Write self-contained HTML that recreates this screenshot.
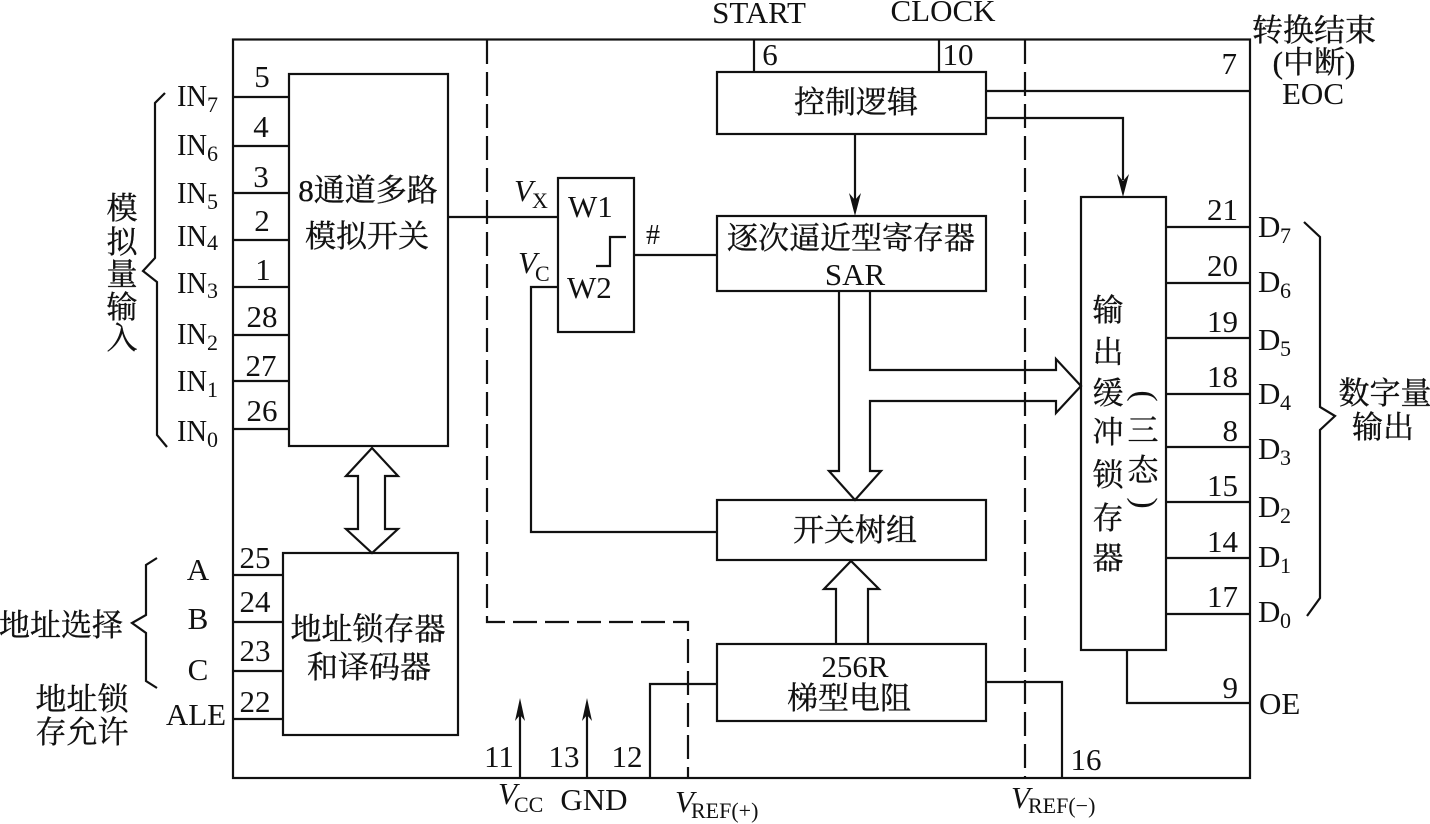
<!DOCTYPE html>
<html><head><meta charset="utf-8"><style>
html,body{margin:0;padding:0;background:#fff}
svg{display:block}
text{fill:#111;font-family:"Liberation Serif","Noto Serif CJK SC",serif;font-size:31px}
.c{font-size:31px;text-anchor:middle;stroke:#111;stroke-width:.35}
.m{text-anchor:middle}
.e{text-anchor:end}
.s{font-size:22px}
.i{font-style:italic}
.l{fill:none;stroke:#111;stroke-width:2.2}
.d{fill:none;stroke:#111;stroke-width:2.2;stroke-dasharray:24 8}
.a{fill:#111;stroke:none}
</style></head><body>
<svg width="1430" height="824" viewBox="0 0 1430 824" xmlns="http://www.w3.org/2000/svg">
<rect class="l" x="233" y="39.5" width="1017" height="738.5"/>
<path class="d" d="M487 40V622H688V778M1025 40V778"/>
<rect class="l" x="289" y="74" width="159" height="372"/>
<rect class="l" x="283" y="553" width="175" height="182"/>
<rect class="l" x="717" y="72" width="269" height="62"/>
<rect class="l" x="717" y="216" width="269" height="75"/>
<rect class="l" x="558" y="178" width="76" height="154"/>
<rect class="l" x="717" y="500" width="269" height="60"/>
<rect class="l" x="717" y="644" width="269" height="77"/>
<rect class="l" x="1081" y="197" width="85" height="453"/>
<path class="l" d="M233 97H289M233 146H289M233 193H289M233 240H289M233 287H289M233 335H289M233 381H289M233 429H289"/>
<path class="l" d="M233 575H283M233 622H283M233 671H283M233 719H283"/>
<path class="l" d="M1166 227H1250M1166 283H1250M1166 338H1250M1166 394H1250M1166 447H1250M1166 502H1250M1166 558H1250M1166 614H1250"/>
<path class="l" d="M372 448L398 476H385V529H398L372 553L346 529H358V476H346Z"/>
<path class="l" d="M448 217H558M634 255H717M558 287H531V532H717M596 266H610V237H626"/>
<path class="l" d="M754 39V72M939 39V72M855 134V200M986 91H1250M986 118H1123V180M1127 650V703H1250"/>
<path class="l" d="M870 291V370H1056V359L1081 386L1056 413V401H870V471H881L855 500L829 471H839V291"/>
<path class="l" d="M836 644V589H824L851 561L879 589H868V644"/>
<path class="l" d="M650 778V684H717M986 682H1062V778M520 778V715M587 778V715"/>
<path class="a" d="M855 216L849 193L855 200L861 193ZM1123 197L1117 174L1123 181L1129 174ZM520 698L515 721L520 715L525 721ZM587 698L582 721L587 715L592 721Z"/>
<path class="l" d="M165 93L155 103V258L143 271L157 282V435L167 447"/>
<path class="l" d="M157 558L146 565V615L132 623L146 633V681L157 688"/>
<path class="l" d="M1304 222L1320 237V407L1335 416L1320 430V598L1307 616"/>

<text x="177" y="106" textLength="30" lengthAdjust="spacingAndGlyphs">IN</text><text x="207" y="112" class="s">7</text>
<text x="177" y="155" textLength="30" lengthAdjust="spacingAndGlyphs">IN</text><text x="207" y="161" class="s">6</text>
<text x="177" y="203" textLength="30" lengthAdjust="spacingAndGlyphs">IN</text><text x="207" y="209" class="s">5</text>
<text x="177" y="246" textLength="30" lengthAdjust="spacingAndGlyphs">IN</text><text x="207" y="250" class="s">4</text>
<text x="177" y="293" textLength="30" lengthAdjust="spacingAndGlyphs">IN</text><text x="207" y="298" class="s">3</text>
<text x="177" y="344" textLength="30" lengthAdjust="spacingAndGlyphs">IN</text><text x="207" y="350" class="s">2</text>
<text x="177" y="391" textLength="30" lengthAdjust="spacingAndGlyphs">IN</text><text x="207" y="397" class="s">1</text>
<text x="177" y="441" textLength="30" lengthAdjust="spacingAndGlyphs">IN</text><text x="207" y="447" class="s">0</text>

<text x="262" y="87" class="m">5</text><text x="261" y="137" class="m">4</text><text x="261" y="187" class="m">3</text><text x="262" y="231" class="m">2</text><text x="263" y="280" class="m">1</text><text x="262" y="327" class="m">28</text><text x="261" y="376" class="m">27</text><text x="262" y="421" class="m">26</text>
<text x="255" y="568" class="m">25</text><text x="255" y="612" class="m">24</text><text x="255" y="661" class="m">23</text><text x="255" y="712" class="m">22</text>
<text x="198" y="580" class="m">A</text><text x="198" y="629" class="m">B</text><text x="198" y="680" class="m">C</text><text x="196" y="725" class="m">ALE</text>

<text x="122" y="219" class="c">模</text><text x="122" y="253" class="c">拟</text><text x="122" y="285" class="c">量</text><text x="122" y="318" class="c">输</text><text x="122" y="349" class="c">入</text>
<text x="368" y="201" class="c">8通道多路</text><text x="367" y="247" class="c">模拟开关</text>
<text x="61" y="636" class="c">地址选择</text><text x="82" y="710" class="c">地址锁</text><text x="82" y="743" class="c">存允许</text>
<text x="368" y="640" class="c">地址锁存器</text><text x="369" y="678" class="c">和译码器</text>

<text x="759" y="23" class="m">START</text><text x="943" y="21" class="m">CLOCK</text>
<text x="770" y="65" class="m">6</text><text x="958" y="65" class="m">10</text>
<text x="856" y="113" class="c">控制逻辑</text>
<text x="851" y="249" class="c">逐次逼近型寄存器</text><text x="855" y="285" class="m">SAR</text>
<text x="568" y="217">W1</text><text x="567" y="298">W2</text><text x="653" y="244" class="m" style="font-size:28px">#</text>
<text x="514" y="201" class="i">V</text><text x="532" y="208" class="s">X</text>
<text x="518" y="273" class="i">V</text><text x="535" y="281" class="s">C</text>
<text x="855" y="541" class="c">开关树组</text><text x="855" y="677" class="m">256R</text><text x="849" y="709" class="c">梯型电阻</text>

<text x="499" y="767" class="m">11</text><text x="564" y="767" class="m">13</text><text x="627" y="767" class="m">12</text><text x="1086" y="770" class="m">16</text>
<text x="498" y="804" class="i">V</text><text x="514" y="812" class="s">CC</text>
<text x="594" y="810" class="m">GND</text>
<text x="675" y="812" class="i">V</text><text x="691" y="818" class="s">REF(+)</text>
<text x="1011" y="808" class="i">V</text><text x="1028" y="813" class="s">REF(−)</text>

<text x="1314" y="41" class="c">转换结束</text><text x="1314" y="73" class="c">(中断)</text><text x="1313" y="104" class="m">EOC</text>
<text x="1237" y="74" class="e">7</text>
<text x="1108" y="321" class="c">输</text><text x="1108" y="363" class="c">出</text><text x="1108" y="404" class="c">缓</text><text x="1108" y="443" class="c">冲</text><text x="1108" y="486" class="c">锁</text><text x="1108" y="529" class="c">存</text><text x="1108" y="569" class="c">器</text>
<text transform="translate(1143,396) rotate(90)" y="9" class="m" style="font-size:34px">(</text><text x="1143" y="441" class="c">三</text><text x="1143" y="481" class="c">态</text><text x="1143" y="514" class="c" style="display:none"></text><text transform="translate(1143,503) rotate(90)" y="9" class="m" style="font-size:34px">)</text>

<text x="1238" y="220" class="e">21</text><text x="1238" y="276" class="e">20</text><text x="1238" y="332" class="e">19</text><text x="1238" y="387" class="e">18</text><text x="1238" y="441" class="e">8</text><text x="1238" y="496" class="e">15</text><text x="1238" y="552" class="e">14</text><text x="1238" y="607" class="e">17</text><text x="1238" y="698" class="e">9</text>
<text x="1258" y="237">D</text><text x="1280" y="243" class="s">7</text>
<text x="1258" y="292">D</text><text x="1280" y="298" class="s">6</text>
<text x="1258" y="350">D</text><text x="1280" y="356" class="s">5</text>
<text x="1258" y="404">D</text><text x="1280" y="410" class="s">4</text>
<text x="1258" y="459">D</text><text x="1280" y="465" class="s">3</text>
<text x="1258" y="517">D</text><text x="1280" y="523" class="s">2</text>
<text x="1258" y="567">D</text><text x="1280" y="573" class="s">1</text>
<text x="1258" y="622">D</text><text x="1280" y="628" class="s">0</text>
<text x="1259" y="714">OE</text>
<text x="1385" y="404" class="c">数字量</text><text x="1383" y="438" class="c">输出</text>
</svg>
</body></html>
